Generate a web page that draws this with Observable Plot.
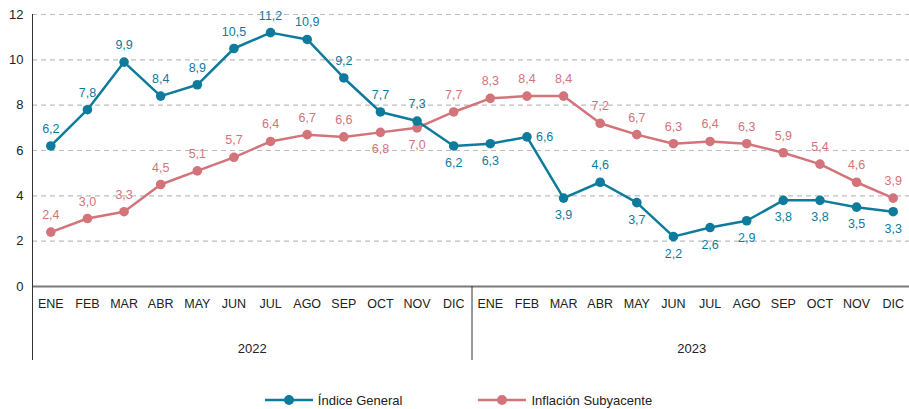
<!DOCTYPE html>
<html><head><meta charset="utf-8">
<script src="https://cdn.jsdelivr.net/npm/d3@7"></script>
<script src="https://cdn.jsdelivr.net/npm/@observablehq/plot@0.6"></script>
<style>
body{margin:0;background:#fff;font-family:"Liberation Sans",Arial,sans-serif;}
#legend{display:flex;justify-content:center;gap:76px;height:24px;align-items:center;font-size:13px;color:#222;padding-left:8px;}
.item{display:flex;align-items:center;gap:5px;}
</style></head>
<body><div id="chart"></div><div id="legend"></div>
<script>
const months = ["ENE","FEB","MAR","ABR","MAY","JUN","JUL","AGO","SEP","OCT","NOV","DIC"];
const years = ["2022","2023"];
const indiceGeneral = [6.2,7.8,9.9,8.4,8.9,10.5,11.2,10.9,9.2,7.7,7.3,6.2, 6.3,6.6,3.9,4.6,3.7,2.2,2.6,2.9,3.8,3.8,3.5,3.3];
const inflacionSubyacente = [2.4,3.0,3.3,4.5,5.1,5.7,6.4,6.7,6.6,6.8,7.0,7.7, 8.3,8.4,8.4,7.2,6.7,6.3,6.4,6.3,5.9,5.4,4.6,3.9];
const generalLabelSide = ["top","top","top","top","top","top","top","top","top","top","top","bottom",
  "bottom","right","bottom","top","bottom","bottom","bottom","bottom","bottom","bottom","bottom","bottom"];
const subyacenteLabelSide = ["top","top","top","top","top","top","top","top","top","bottom","bottom","top",
  "top","top","top","top","top","top","top","top","top","top","top","top"];
const seriesNames = ["Índice General","Inflación Subyacente"];
const yTicks = [0,2,4,6,8,10,12];

const blue = "#0f7b9c", pink = "#d3737a";
const fmt = v => v.toFixed(1).replace(".", ",");

const rows = indiceGeneral.map((g, i) => ({i, general: g, sub: inflacionSubyacente[i], gSide: generalLabelSide[i], sSide: subyacenteLabelSide[i]}));

function labels(key, sideKey, color) {
  const common = {x: "i", y: key, text: d => fmt(d[key]), fill: color, fontSize: 12.5};
  return [
    Plot.text(rows.filter(d => d[sideKey] === "top"), {...common, dy: -17}),
    Plot.text(rows.filter(d => d[sideKey] === "bottom"), {...common, dy: 17}),
    Plot.text(rows.filter(d => d[sideKey] === "right"), {...common, dx: 9, textAnchor: "start"})
  ];
}

const narrow = "'Liberation Sans Narrow', 'Liberation Sans', Arial, sans-serif";
const chart = Plot.plot({
  width: 909, height: 388,
  marginTop: 14, marginBottom: 102, marginLeft: 32, marginRight: 0,
  x: {domain: [-0.5, 23.5], range: [32, 911]},
  y: {domain: [0, 12], range: [286, 14]},
  style: {fontFamily: "'Liberation Sans', Arial, sans-serif", overflow: "visible"},
  marks: [
    Plot.ruleY(yTicks.filter(t => t > 0), {stroke: "#bdbdbd", strokeWidth: 1.2, strokeDasharray: "5,4"}),
    Plot.ruleY([0], {stroke: "#7a7a7a", strokeWidth: 2}),
    Plot.ruleX([-0.5], {stroke: "#333", strokeWidth: 1, insetBottom: -74}),
    Plot.ruleX([11.5], {y1: 0, y2: 0, stroke: "#333", strokeWidth: 1, insetBottom: -74}),
    Plot.axisY({ticks: yTicks, tickSize: 0, tickPadding: 9, fontSize: 13, label: null, fill: "#222", fontFamily: narrow}),
    Plot.axisX({ticks: d3.range(24), tickFormat: i => months[i % 12], tickSize: 0, tickPadding: 13, fontSize: 12.5, label: null, fill: "#222", fontFamily: narrow}),
    Plot.text(years, {x: (d, i) => i * 12 + 5.5, frameAnchor: "bottom", dy: 66, text: d => d, fontSize: 13, fill: "#222", fontFamily: narrow}),
    Plot.line(rows, {x: "i", y: "sub", stroke: pink, strokeWidth: 2.5}),
    Plot.dot(rows, {x: "i", y: "sub", fill: pink, r: 4.8}),
    Plot.line(rows, {x: "i", y: "general", stroke: blue, strokeWidth: 2.5}),
    Plot.dot(rows, {x: "i", y: "general", fill: blue, r: 4.8}),
    ...labels("general", "gSide", blue),
    ...labels("sub", "sSide", pink)
  ]
});
document.getElementById("chart").appendChild(chart);

const legend = document.getElementById("legend");
[[seriesNames[0], blue], [seriesNames[1], pink]].forEach(([name, color]) => {
  const it = document.createElement("div");
  it.className = "item";
  it.innerHTML = `<svg width="48" height="12"><line x1="0" x2="48" y1="6" y2="6" stroke="${color}" stroke-width="2.5"/><circle cx="24" cy="6" r="5" fill="${color}"/></svg><span>${name}</span>`;
  legend.appendChild(it);
});
</script></body></html>
